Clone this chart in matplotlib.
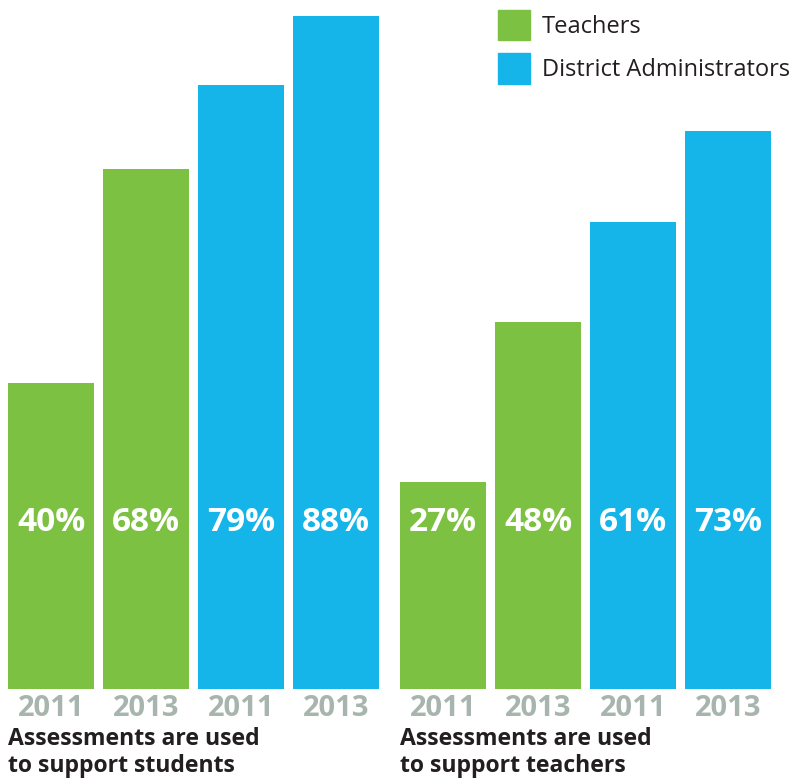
import numpy as np
import matplotlib
matplotlib.use('Agg')
import matplotlib.pyplot as plt
from matplotlib.patches import Patch

# survey results, percent agreeing
years = ['2011', '2013', '2011', '2013']
groups = ['Teachers', 'Teachers', 'District Administrators', 'District Administrators']
students = [40, 68, 79, 88]
teachers = [27, 48, 61, 73]
captions = ['Assessments are used\nto support students',
            'Assessments are used\nto support teachers']

green = '#7DC142'
blue = '#15B5E9'
colors = {'Teachers': green, 'District Administrators': blue}
year_gray = '#A8B5AE'

plt.rcParams['font.family'] = ['Open Sans', 'DejaVu Sans']

fig = plt.figure(figsize=(7.93, 7.78), dpi=100)
ax = fig.add_axes([0, 89 / 778, 1, 689 / 778])
ax.set_xlim(-51 / 95, 742 / 95)
ax.set_ylim(0, 689 / 7.65)
ax.axis('off')

offsets = [0, 392 / 95]
for off, vals, cap in zip(offsets, [students, teachers], captions):
    x = np.arange(len(vals)) + off
    ax.bar(x, vals, width=86 / 95, color=[colors[g] for g in groups])
    for xi, v, yr in zip(x, vals, years):
        ax.text(xi, 21.8, f'{v}%', ha='center', va='center', color='white',
                fontsize=24, fontweight='bold')
        ax.text(xi, -2.5, yr, ha='center', va='center', color=year_gray,
                fontsize=21, fontweight='bold', clip_on=False)
    ax.text(x[0] - 0.453, -5.0, cap, ha='left', va='top', color='#231F20',
            fontsize=16.6, fontweight='bold', linespacing=1.15, clip_on=False)

handles = [Patch(color=green), Patch(color=blue)]
fig.legend(handles, ['Teachers', 'District Administrators'], loc='upper left',
           bbox_to_anchor=(498 / 793, 1 - 10 / 778), frameon=False, fontsize=17,
           handlelength=1.36, handleheight=1.6, handletextpad=0.5,
           labelspacing=0.55, borderpad=0, borderaxespad=0, labelcolor='#231F20')

fig.savefig('out.png', dpi=100)
